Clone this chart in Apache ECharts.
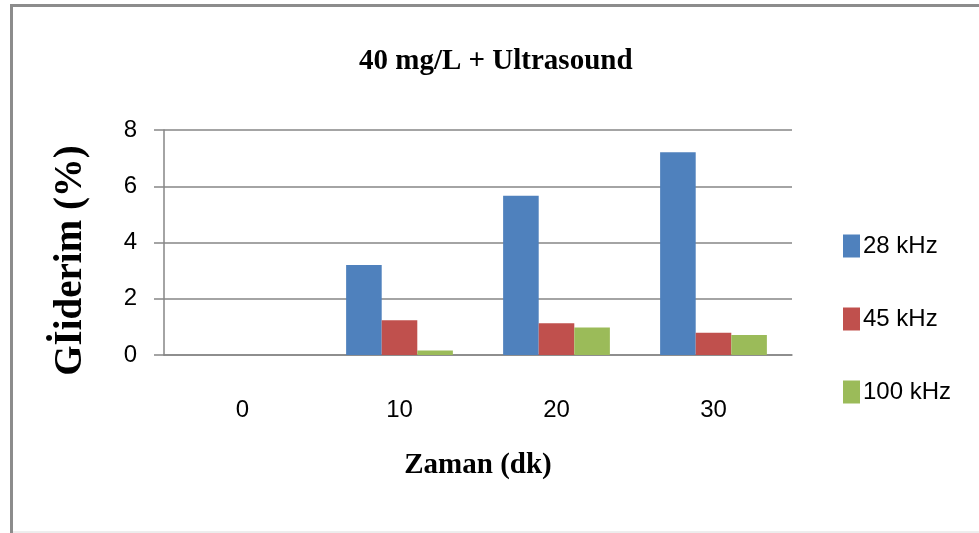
<!DOCTYPE html>
<html>
<head>
<meta charset="utf-8">
<script src="https://cdn.jsdelivr.net/npm/echarts@6/dist/echarts.min.js"></script>
<style>
html,body{margin:0;padding:0;background:#fff;}
#chart{width:979px;height:533px;}
</style>
</head>
<body>
<div id="chart"></div>
<script>
var categories = ['0', '10', '20', '30'];
var seriesNames = ['28 kHz', '45 kHz', '100 kHz'];
var values28 = [0, 3.2, 5.66, 7.21];
var values45 = [0, 1.24, 1.13, 0.79];
var values100 = [0, 0.16, 0.98, 0.71];
var yTicks = [0, 2, 4, 6, 8];
var colors = ['#4F81BD', '#C0504D', '#9BBB59'];

var chart = echarts.init(document.getElementById('chart'), null, {renderer: 'canvas'});
var sansFont = "'Liberation Sans', Arial, sans-serif";
var serifFont = "'Liberation Serif', 'Times New Roman', serif";
var seriesData = [values28, values45, values100];

chart.setOption({
  animation: false,
  backgroundColor: '#ffffff',
  title: {
    text: '40 mg/L + Ultrasound',
    left: 354,
    top: 42,
    padding: 5,
    textStyle: {fontFamily: serifFont, fontWeight: 'bold', fontSize: 29, color: '#000'}
  },
  legend: {
    orient: 'vertical',
    left: 838,
    top: 229,
    itemWidth: 17,
    itemHeight: 23,
    itemGap: 49,
    icon: 'rect',
    data: seriesNames,
    textStyle: {fontFamily: sansFont, fontSize: 24, color: '#000', padding: [0, 0, 0, -2]}
  },
  grid: {left: 164, right: 187, top: 130, bottom: 178, containLabel: false},
  xAxis: {
    type: 'category',
    data: categories,
    name: 'Zaman (dk)',
    nameLocation: 'middle',
    nameGap: 96,
    nameTextStyle: {fontFamily: serifFont, fontWeight: 'bold', fontSize: 29, color: '#000'},
    axisLine: {show: true, lineStyle: {color: '#868686', width: 1.5}},
    axisTick: {show: false},
    axisLabel: {margin: 43, fontFamily: sansFont, fontSize: 24, color: '#000'}
  },
  yAxis: {
    type: 'value',
    min: yTicks[0],
    max: yTicks[yTicks.length - 1],
    interval: yTicks[1] - yTicks[0],
    name: 'Gİiderim (%)',
    nameLocation: 'middle',
    nameGap: 74,
    nameRotate: 90,
    nameTextStyle: {fontFamily: serifFont, fontWeight: 'bold', fontSize: 39, color: '#000', padding: [0, 36, 0, 0]},
    axisLine: {show: true, lineStyle: {color: '#868686', width: 1.5}},
    axisTick: {show: true, length: 10, lineStyle: {color: '#868686', width: 1.5}},
    axisLabel: {margin: 27, fontFamily: sansFont, fontSize: 24, color: '#000'},
    splitLine: {show: true, lineStyle: {color: '#868686', width: 1.5}}
  },
  graphic: [
    {type: 'line', shape: {x1: 10, y1: 5.5, x2: 979, y2: 5.5}, style: {stroke: '#8c8c8c', lineWidth: 3}},
    {type: 'line', shape: {x1: 11.5, y1: 4, x2: 11.5, y2: 533}, style: {stroke: '#8c8c8c', lineWidth: 3}},
    {type: 'line', shape: {x1: 13, y1: 532, x2: 979, y2: 532}, style: {stroke: '#dcdcdc', lineWidth: 1}}
  ],
  series: seriesNames.map(function (name, i) {
    return {
      name: name,
      type: 'bar',
      data: seriesData[i],
      barGap: '0%',
      barCategoryGap: '32%',
      itemStyle: {color: colors[i]}
    };
  })
});
</script>
</body>
</html>
